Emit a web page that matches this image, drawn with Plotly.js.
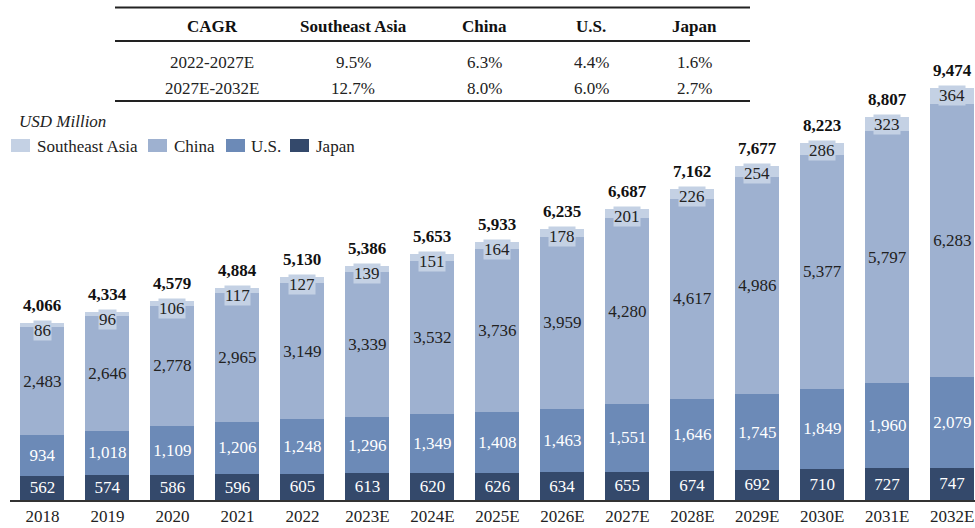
<!DOCTYPE html>
<html>
<head>
<meta charset="utf-8">
<script src="https://cdn.plot.ly/plotly-3.0.1.min.js"></script>
<style>html,body{margin:0;padding:0;background:#fff;}#chart{width:975px;height:528px;}</style>
</head>
<body>
<div id="chart"></div>
<script>
const years = ["2018","2019","2020","2021","2022","2023E","2024E","2025E","2026E","2027E","2028E","2029E","2030E","2031E","2032E"];
const japan = [562,574,586,596,605,613,620,626,634,655,674,692,710,727,747];
const us = [934,1018,1109,1206,1248,1296,1349,1408,1463,1551,1646,1745,1849,1960,2079];
const china = [2483,2646,2778,2965,3149,3339,3532,3736,3959,4280,4617,4986,5377,5797,6283];
const sea = [86,96,106,117,127,139,151,164,178,201,226,254,286,323,364];
const totals = [4066,4334,4579,4884,5130,5386,5653,5933,6235,6687,7162,7677,8223,8807,9474];

const seriesNames = ["Southeast Asia","China","U.S.","Japan"];
const cagrHeader = ["CAGR","Southeast Asia","China","U.S.","Japan"];
const cagrRows = [
  ["2022-2027E","9.5%","6.3%","4.4%","1.6%"],
  ["2027E-2032E","12.7%","8.0%","6.0%","2.7%"]
];

const FONT = "'Liberation Serif', 'Times New Roman', serif";
const C_JP = "#34496b", C_US = "#6c8ab7", C_CN = "#9eb1d0", C_SEA = "#c4d1e4";
const seriesColors = [C_SEA, C_CN, C_US, C_JP];

const ML = 10, PW = 965, PH = 500;
const px = x => (x - ML) / PW;
const py = y => (PH - y) / PH;

function bar(name, vals, color, tcolor, showText) {
  return {
    type: "bar", name: name, x: years, y: vals,
    marker: {color: color, line: {width: 0}},
    text: showText ? vals.map(v => v.toLocaleString("en-US")) : undefined,
    textposition: showText ? "inside" : "none",
    insidetextanchor: "middle",
    textangle: 0,
    constraintext: "none",
    textfont: {family: FONT, size: 17, color: tcolor},
    hoverinfo: "x+y+name"
  };
}

const data = [
  bar("Japan", japan, C_JP, "#ffffff", true),
  bar("U.S.", us, C_US, "#ffffff", true),
  bar("China", china, C_CN, "#222222", true),
  bar("Southeast Asia", sea, C_SEA, "#222222", false)
];

const annotations = [];
years.forEach((yr, i) => {
  annotations.push({
    x: i, y: totals[i], xref: "x", yref: "y",
    text: sea[i].toLocaleString("en-US"), showarrow: false,
    yanchor: "top", yshift: 3, bgcolor: C_SEA, borderpad: 0,
    font: {family: FONT, size: 17, color: "#222"}
  });
  annotations.push({
    x: i, y: totals[i], xref: "x", yref: "y",
    text: "<b>" + totals[i].toLocaleString("en-US") + "</b>", showarrow: false,
    yanchor: "bottom", yshift: 6,
    font: {family: FONT, size: 17, color: "#111"}
  });
});

// CAGR table
const colX = [212, 353, 484, 591, 694];
const rowY = [26, 62, 88];
cagrHeader.forEach((t, j) => {
  annotations.push({xref: "paper", yref: "paper", x: px(colX[j]), y: py(rowY[0]),
    text: "<b>" + t + "</b>", showarrow: false, xanchor: "center", yanchor: "middle",
    font: {family: FONT, size: 17, color: "#111"}});
});
cagrRows.forEach((row, r) => {
  row.forEach((t, j) => {
    annotations.push({xref: "paper", yref: "paper", x: px(colX[j]), y: py(rowY[r + 1]),
      text: t, showarrow: false, xanchor: "center", yanchor: "middle",
      font: {family: FONT, size: 17, color: "#222"}});
  });
});
annotations.push({xref: "paper", yref: "paper", x: px(17), y: py(121),
  text: "<i>USD Million</i>", showarrow: false, xanchor: "left", yanchor: "middle",
  font: {family: FONT, size: 17, color: "#222"}});

const lineY = [7.5, 41, 101];
const shapes = lineY.map(y => ({type: "line", xref: "paper", yref: "paper",
  x0: px(115), x1: px(750), y0: py(y), y1: py(y), line: {color: "#222", width: 2}}));

// Legend (swatches + names)
const legSwX = [11, 148, 226, 290];
const legTxX = [35, 172, 249, 314];
seriesNames.forEach((n, k) => {
  shapes.push({type: "rect", xref: "paper", yref: "paper",
    x0: px(legSwX[k]), x1: px(legSwX[k] + 19), y0: py(152), y1: py(139),
    fillcolor: seriesColors[k], line: {width: 0}});
  annotations.push({xref: "paper", yref: "paper", x: px(legTxX[k]), y: py(146.5),
    text: n, showarrow: false, xanchor: "left", yanchor: "middle",
    font: {family: FONT, size: 17, color: "#222"}});
});

const layout = {
  width: 975, height: 528,
  margin: {l: ML, r: 0, t: 0, b: 28},
  barmode: "stack", bargap: 0.323,
  paper_bgcolor: "#fff", plot_bgcolor: "#fff",
  font: {family: FONT, size: 17, color: "#222"},
  xaxis: {type: "category", range: [-0.5, 14.35], showline: true, linecolor: "#333", linewidth: 2,
    ticks: "", showgrid: false, zeroline: false, tickfont: {family: FONT, size: 17, color: "#222"}, fixedrange: true},
  yaxis: {range: [0, 11505], visible: false, showgrid: false, zeroline: false, fixedrange: true},
  showlegend: false,
  annotations: annotations, shapes: shapes
};

Plotly.newPlot("chart", data, layout, {displayModeBar: false, staticPlot: true});
</script>
</body>
</html>
